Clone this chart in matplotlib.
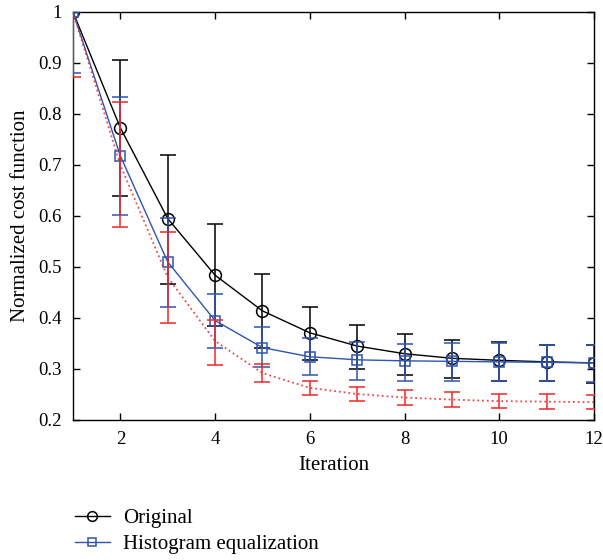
import matplotlib
matplotlib.use("Agg")
import matplotlib.pyplot as plt
from matplotlib.lines import Line2D
from matplotlib.ticker import FuncFormatter

plt.rcParams['font.family'] = ['Liberation Serif', 'DejaVu Serif']

iterations = list(range(1, 13))

# Original
orig = [1.0, 0.773, 0.595, 0.484, 0.414, 0.371, 0.345, 0.330, 0.321, 0.317, 0.314, 0.312]
orig_lo = [1.0, 0.640, 0.467, 0.384, 0.342, 0.318, 0.300, 0.288, 0.282, 0.277, 0.277, 0.272]
orig_hi = [1.0, 0.905, 0.720, 0.585, 0.486, 0.422, 0.386, 0.369, 0.357, 0.352, 0.347, 0.347]

# Histogram equalization
hist = [1.0, 0.718, 0.510, 0.395, 0.342, 0.324, 0.318, 0.316, 0.315, 0.314, 0.313, 0.312]
hist_lo = [0.880, 0.602, 0.422, 0.342, 0.303, 0.288, 0.278, 0.277, 0.276, 0.277, 0.277, 0.275]
hist_hi = [1.0, 0.833, 0.597, 0.448, 0.382, 0.360, 0.353, 0.349, 0.350, 0.350, 0.348, 0.348]

# third series (red, dotted)
red = [1.0, 0.700, 0.480, 0.355, 0.292, 0.263, 0.251, 0.244, 0.240, 0.237, 0.236, 0.235]
red_lo = [0.873, 0.579, 0.390, 0.308, 0.275, 0.249, 0.238, 0.229, 0.226, 0.223, 0.222, 0.221]
red_hi = [1.127, 0.824, 0.569, 0.397, 0.310, 0.277, 0.265, 0.259, 0.254, 0.251, 0.250, 0.249]

black = 'black'
blue = '#2f55b0'
redc = '#f02828'

fig = plt.figure(figsize=(6.03, 5.60), dpi=100)
ax = fig.add_axes([0.121, 0.25, 0.864, 0.7286])


def err(vals, lo, hi):
    return [[v - l for v, l in zip(vals, lo)], [h - v for v, h in zip(vals, hi)]]


ax.errorbar(iterations, orig, yerr=err(orig, orig_lo, orig_hi), color=black,
            marker='o', ms=8.5, mfc='none', mew=1.1, lw=1.0, elinewidth=1.1,
            capsize=6, capthick=1.1, zorder=3)
ax.errorbar(iterations, hist, yerr=err(hist, hist_lo, hist_hi), color=blue,
            marker='s', ms=6.5, mfc='none', mew=1.1, lw=1.0, elinewidth=1.1,
            capsize=6, capthick=1.1, zorder=4)
ax.errorbar(iterations, red, yerr=err(red, red_lo, red_hi), color=redc,
            ls=':', lw=1.3, elinewidth=1.3, capsize=6, capthick=1.3,
            alpha=0.85, zorder=5)

ax.set_xlim(1, 12)
ax.set_ylim(0.2, 1.0)
ax.set_xticks([2, 4, 6, 8, 10, 12])
ax.set_yticks([0.2, 0.3, 0.4, 0.5, 0.6, 0.7, 0.8, 0.9, 1.0])
ax.yaxis.set_major_formatter(FuncFormatter(lambda v, p: '%g' % v))
ax.tick_params(direction='in', length=5, width=1, top=True, right=True,
               labelsize=13.5, pad=8)
for s in ax.spines.values():
    s.set_linewidth(1.0)

ax.set_xlabel('Iteration', fontsize=15, labelpad=6)
ax.set_ylabel('Normalized cost function', fontsize=15, labelpad=6)

# legend shows plain line + marker, no error caps
handles = [
    Line2D([], [], color=black, marker='o', ms=7, mfc='none', mew=1.1, lw=1.0),
    Line2D([], [], color=blue, marker='s', ms=6, mfc='none', mew=1.1, lw=1.0),
]
labels = ['Original', 'Histogram equalization']
fig.legend(handles, labels, loc='center left', bbox_to_anchor=(0.124, 0.051),
           frameon=False, fontsize=15, handlelength=1.7, handletextpad=0.6,
           labelspacing=0.3, borderpad=0, borderaxespad=0)

fig.savefig('out.png', dpi=100)
